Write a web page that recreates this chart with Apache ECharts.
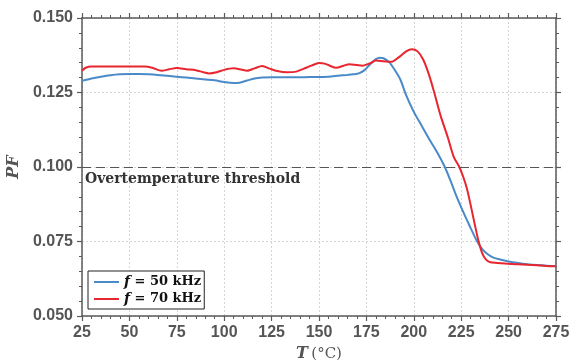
<!DOCTYPE html>
<html>
<head>
<meta charset="utf-8">
<script src="https://cdn.jsdelivr.net/npm/echarts@6/dist/echarts.min.js"></script>
<style>
  html, body { margin: 0; padding: 0; background: #fff; }
  #container { width: 570px; height: 362px; }
</style>
</head>
<body>
<div id="container"></div>
<script>
const freqs = [50, 70];
const colors = ['#4a8ac8', '#e8262f'];

const tBlue = [25, 30, 35, 40, 45, 50, 55, 60, 65, 70, 75, 80, 85, 90, 95, 100, 105, 108, 112, 116, 120, 125, 130, 135, 140, 145, 150, 155, 160, 165, 168, 171, 174, 177, 180, 182, 184, 187, 190, 193, 196, 200, 204, 208, 212, 216, 219, 222, 226, 230, 233, 236, 239, 242, 246, 250, 255, 260, 265, 270, 275];
const pfBlue = [0.1289, 0.1297, 0.1303, 0.1308, 0.1311, 0.1312, 0.1312, 0.1311, 0.1309, 0.1306, 0.1303, 0.1300, 0.1297, 0.1294, 0.1291, 0.1285, 0.1282, 0.1283, 0.1290, 0.1297, 0.1300, 0.1301, 0.1301, 0.1301, 0.1301, 0.1302, 0.1302, 0.1303, 0.1306, 0.1309, 0.1311, 0.1314, 0.1325, 0.1345, 0.1362, 0.1367, 0.1365, 0.1352, 0.1325, 0.1292, 0.1240, 0.1185, 0.1140, 0.1095, 0.1053, 0.1005, 0.0960, 0.0910, 0.0850, 0.0795, 0.0755, 0.0725, 0.0707, 0.0696, 0.0689, 0.0683, 0.0678, 0.0674, 0.0671, 0.0669, 0.0668];

const tRed = [25, 27, 30, 40, 50, 58, 62, 67, 71, 75, 80, 85, 89, 92, 96, 100, 105, 109, 112, 116, 120, 124, 128, 133, 138, 142, 146, 150, 153, 156, 159, 163, 166, 170, 173, 177, 180, 184, 188, 192, 196, 199, 202, 205, 208, 211, 214, 218, 221, 224, 226, 228, 230, 232, 234, 236, 238, 240, 244, 248, 255, 260, 265, 270, 275];
const pfRed = [0.1323, 0.1333, 0.1337, 0.1337, 0.1337, 0.1337, 0.1333, 0.1323, 0.1328, 0.1332, 0.1328, 0.1325, 0.1318, 0.1314, 0.1318, 0.1326, 0.1331, 0.1327, 0.1323, 0.1331, 0.1339, 0.1330, 0.1322, 0.1318, 0.1320, 0.1330, 0.1340, 0.1349, 0.1347, 0.1339, 0.1333, 0.1340, 0.1345, 0.1342, 0.1340, 0.1348, 0.1357, 0.1355, 0.1353, 0.1368, 0.1388, 0.1395, 0.1388, 0.1360, 0.1310, 0.1245, 0.1175, 0.1098, 0.1035, 0.1000, 0.0968, 0.0928, 0.0872, 0.0812, 0.0755, 0.0712, 0.0690, 0.0681, 0.0678, 0.0676, 0.0674, 0.0672, 0.0670, 0.0668, 0.0667];

const threshold = 0.1;
const thresholdLabel = 'Overtemperature threshold';

const dom = document.getElementById('container');
const chart = echarts.init(dom, null, { renderer: 'canvas' });

const axisColor = '#5a5a5a';
const serif = '"DejaVu Serif", "Liberation Serif", serif';
const sans = '"Liberation Sans", Arial, sans-serif';

const zip = (xs, ys) => xs.map((x, i) => [x, ys[i]]);

const frame = {
  axisLine: { show: true, lineStyle: { color: axisColor, width: 1.5 } },
  axisTick: { show: true, inside: false, length: 5, lineStyle: { color: axisColor, width: 1.2 } }
};

// axes that only draw the small ticks between the labelled ones
const minorX = pos => ({
  type: 'value', min: 25, max: 275, interval: 5, position: pos,
  axisLine: { show: false }, axisLabel: { show: false }, splitLine: { show: false },
  axisTick: { show: true, inside: false, length: 3, lineStyle: { color: axisColor, width: 1 } }
});
const minorY = pos => ({
  type: 'value', min: 0.05, max: 0.15, interval: 0.005, position: pos,
  axisLine: { show: false }, axisLabel: { show: false }, splitLine: { show: false },
  axisTick: { show: true, inside: false, length: 3, lineStyle: { color: axisColor, width: 1 } }
});

const option = {
  backgroundColor: '#fff',
  animation: false,
  grid: { left: 82, right: 14, top: 18, bottom: 46, outerBoundsMode: 'none', containLabel: false },
  legend: {
    left: 88,
    top: 271,
    orient: 'vertical',
    backgroundColor: '#fff',
    borderColor: '#222',
    borderWidth: 1,
    borderRadius: 0,
    padding: [4, 3, 3, 6],
    itemGap: 3,
    itemWidth: 25,
    itemHeight: 2,
    icon: 'rect',
    textStyle: {
      rich: {
        i: { fontFamily: serif, fontStyle: 'italic', fontWeight: 'bold', fontSize: 14, color: '#111' },
        b: { fontFamily: serif, fontWeight: 'bold', fontSize: 13, color: '#111' }
      }
    },
    formatter: name => {
      const parts = name.split(' = ');
      return '{i|f}{b| = ' + parts[1] + '}';
    }
  },
  xAxis: [
    {
      type: 'value', min: 25, max: 275, interval: 25,
      position: 'bottom',
      name: '{i|T} {r|(°C)}',
      nameLocation: 'middle',
      nameGap: 29,
      nameTextStyle: {
        rich: {
          i: { fontFamily: serif, fontStyle: 'italic', fontWeight: 'bold', fontSize: 16, color: '#555' },
          r: { fontFamily: serif, fontSize: 15, color: '#555' }
        }
      },
      ...frame,
      axisLabel: { color: '#555', fontFamily: sans, fontWeight: 'bold', fontSize: 16, margin: 9 },
      splitLine: { show: true, lineStyle: { color: '#d6d6d6', type: [2, 2], width: 1 } }
    },
    {
      type: 'value', min: 25, max: 275, interval: 25,
      position: 'top',
      ...frame,
      axisLabel: { show: false },
      splitLine: { show: false }
    },
    minorX('bottom'),
    minorX('top')
  ],
  yAxis: [
    {
      type: 'value', min: 0.05, max: 0.15, interval: 0.025,
      position: 'left',
      name: 'PF',
      nameLocation: 'middle',
      nameGap: 53,
      nameRotate: 90,
      nameTextStyle: { fontFamily: serif, fontStyle: 'italic', fontWeight: 'bold', fontSize: 16, color: '#555' },
      ...frame,
      axisLabel: {
        color: '#555', fontFamily: sans, fontWeight: 'bold', fontSize: 16, margin: 9,
        formatter: v => v.toFixed(3)
      },
      splitLine: { show: true, lineStyle: { color: '#d6d6d6', type: [2, 2], width: 1 } }
    },
    {
      type: 'value', min: 0.05, max: 0.15, interval: 0.025,
      position: 'right',
      ...frame,
      axisLabel: { show: false },
      splitLine: { show: false }
    },
    minorY('left'),
    minorY('right')
  ],
  series: [
    {
      name: 'f = ' + freqs[0] + ' kHz',
      type: 'line',
      data: zip(tBlue, pfBlue),
      smooth: 0.3,
      showSymbol: false,
      color: colors[0],
      lineStyle: { width: 2, color: colors[0] },
      z: 3,
      markLine: {
        silent: true,
        symbol: 'none',
        lineStyle: { color: '#555', type: [9, 5], width: 1 },
        label: {
          show: true,
          position: 'insideStartBottom',
          formatter: thresholdLabel,
          fontFamily: serif,
          fontWeight: 'bold',
          fontSize: 14,
          color: '#333',
          distance: [3, 5]
        },
        data: [{ yAxis: threshold }]
      }
    },
    {
      name: 'f = ' + freqs[1] + ' kHz',
      type: 'line',
      data: zip(tRed, pfRed),
      smooth: 0.3,
      showSymbol: false,
      color: colors[1],
      lineStyle: { width: 2, color: colors[1] },
      z: 4
    }
  ]
};

chart.setOption(option);
</script>
</body>
</html>
